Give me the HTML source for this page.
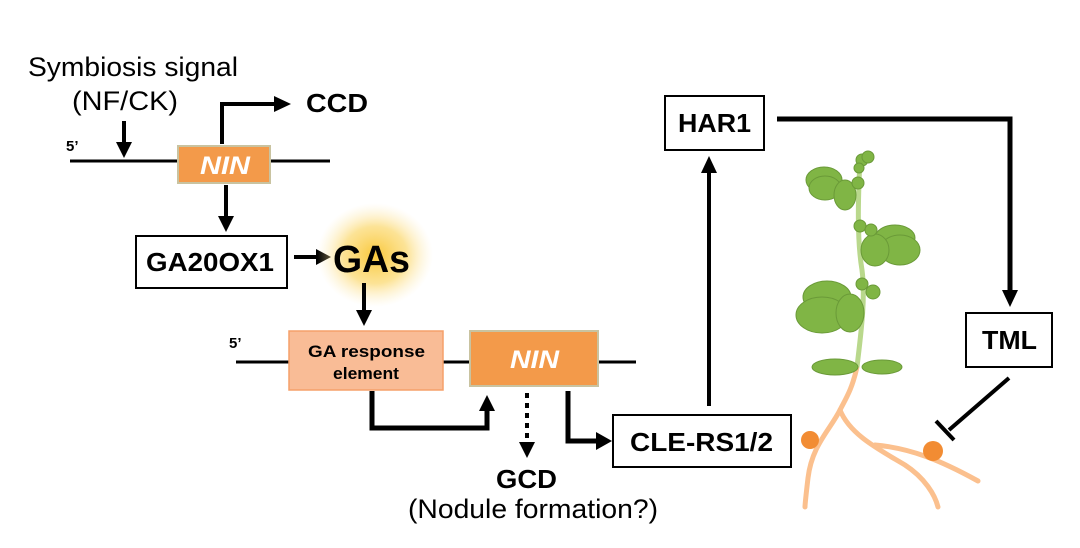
<!DOCTYPE html>
<html><head><meta charset="utf-8"><style>
html,body{margin:0;padding:0;background:#fff;}
svg{display:block;}
text{font-family:"Liberation Sans",Arial,sans-serif;}
</style></head><body>
<svg width="1080" height="548" viewBox="0 0 1080 548" xmlns="http://www.w3.org/2000/svg">
<defs>
<radialGradient id="glow" cx="50%" cy="50%" r="50%">
<stop offset="0%" stop-color="#F9C531" stop-opacity="0.95"/>
<stop offset="55%" stop-color="#FBD769" stop-opacity="0.7"/>
<stop offset="100%" stop-color="#FDEBB8" stop-opacity="0"/>
</radialGradient>
</defs>

<!-- top -->
<text x="28" y="76" font-size="27" textLength="210" lengthAdjust="spacingAndGlyphs">Symbiosis signal</text>
<text x="72" y="110" font-size="27" textLength="106" lengthAdjust="spacingAndGlyphs">(NF/CK)</text>
<line x1="124" y1="121" x2="124" y2="144" stroke="#000" stroke-width="4"/>
<path d="M116,142 L132,142 L124,158 z"/>
<text x="66" y="151" font-size="15" font-weight="bold">5’</text>
<line x1="70" y1="161" x2="330" y2="161" stroke="#000" stroke-width="3"/>
<rect x="178" y="146" width="92" height="37" fill="#F39A4A" stroke="#C9C3A0" stroke-width="2"/>
<text x="200" y="174" font-size="25" font-weight="bold" font-style="italic" fill="#fff" textLength="50" lengthAdjust="spacingAndGlyphs">NIN</text>
<path d="M222,144 L222,104 L276,104" fill="none" stroke="#000" stroke-width="4"/>
<path d="M274,96 L291,104 L274,112 z"/>
<text x="306" y="112" font-size="26" font-weight="bold" textLength="62" lengthAdjust="spacingAndGlyphs">CCD</text>
<line x1="226" y1="185" x2="226" y2="218" stroke="#000" stroke-width="4"/>
<path d="M218,216 L234,216 L226,232 z"/>
<rect x="136" y="236" width="151" height="52" fill="#fff" stroke="#000" stroke-width="2"/>
<text x="146" y="271" font-size="26" font-weight="bold" textLength="128" lengthAdjust="spacingAndGlyphs">GA20OX1</text>
<line x1="294" y1="257" x2="318" y2="257" stroke="#000" stroke-width="4"/>
<path d="M316,249 L331,257 L316,265 z"/>
<ellipse cx="375" cy="255" rx="58" ry="52" fill="url(#glow)"/>
<text x="333" y="272" font-size="38" font-weight="bold" textLength="77" lengthAdjust="spacingAndGlyphs">GAs</text>
<line x1="364" y1="283" x2="364" y2="312" stroke="#000" stroke-width="4"/>
<path d="M356,310 L372,310 L364,326 z"/>

<!-- middle -->
<text x="229" y="348" font-size="15" font-weight="bold">5’</text>
<line x1="236" y1="362" x2="636" y2="362" stroke="#000" stroke-width="3"/>
<rect x="289" y="331" width="154" height="59" fill="#F9BC96" stroke="#F5A06A" stroke-width="1.5"/>
<text x="308" y="357" font-size="17" font-weight="bold" textLength="117" lengthAdjust="spacingAndGlyphs">GA response</text>
<text x="333" y="379" font-size="17" font-weight="bold" textLength="66" lengthAdjust="spacingAndGlyphs">element</text>
<rect x="470" y="331" width="128" height="55" fill="#F39A4A" stroke="#C9C3A0" stroke-width="2"/>
<text x="510" y="368" font-size="25" font-weight="bold" font-style="italic" fill="#fff" textLength="49" lengthAdjust="spacingAndGlyphs">NIN</text>
<path d="M372,391 L372,428 L487,428 L487,410" fill="none" stroke="#000" stroke-width="5"/>
<path d="M479,411 L495,411 L487,395 z"/>
<line x1="527" y1="393" x2="527" y2="443" stroke="#000" stroke-width="4" stroke-dasharray="5,5"/>
<path d="M519,442 L535,442 L527,458 z"/>
<text x="496" y="488" font-size="26" font-weight="bold" textLength="61" lengthAdjust="spacingAndGlyphs">GCD</text>
<text x="408" y="518" font-size="27" textLength="250" lengthAdjust="spacingAndGlyphs">(Nodule formation?)</text>
<path d="M568,391 L568,441 L598,441" fill="none" stroke="#000" stroke-width="5"/>
<path d="M596,432 L612,441 L596,450 z"/>
<rect x="613" y="415" width="178" height="52" fill="#fff" stroke="#000" stroke-width="2"/>
<text x="630" y="451" font-size="26" font-weight="bold" textLength="143" lengthAdjust="spacingAndGlyphs">CLE-RS1/2</text>
<line x1="709" y1="406" x2="709" y2="172" stroke="#000" stroke-width="4"/>
<path d="M701,173 L717,173 L709,156 z"/>
<rect x="665" y="96" width="99" height="54" fill="#fff" stroke="#000" stroke-width="2"/>
<text x="678" y="132" font-size="26" font-weight="bold" textLength="73" lengthAdjust="spacingAndGlyphs">HAR1</text>
<path d="M777,119 L1010,119 L1010,290" fill="none" stroke="#000" stroke-width="5"/>
<path d="M1002,290 L1018,290 L1010,307 z"/>
<rect x="966" y="313" width="86" height="54" fill="#fff" stroke="#000" stroke-width="2"/>
<text x="982" y="349" font-size="26" font-weight="bold" textLength="55" lengthAdjust="spacingAndGlyphs">TML</text>
<line x1="1009" y1="378" x2="949" y2="430" stroke="#000" stroke-width="4"/>
<line x1="936" y1="421" x2="954" y2="440" stroke="#000" stroke-width="4"/>

<!-- plant roots -->
<g fill="none" stroke="#FBC08E" stroke-width="5" stroke-linecap="round">
<path d="M857,367 C852,390 845,400 840,410 C830,430 812,445 808,478 C806,495 805,505 805,507"/>
<path d="M840,410 C850,435 880,450 905,465 C925,478 935,495 938,507"/>
<path d="M875,445 C910,448 940,460 978,481"/>
</g>
<circle cx="810" cy="440" r="9" fill="#F28C33"/>
<circle cx="933" cy="451" r="10" fill="#F28C33"/>
<!-- stem -->
<path d="M860,160 C858,200 857,240 862,270 C866,300 860,340 857,367" fill="none" stroke="#B9D88C" stroke-width="5"/>
<g fill="#80B545" stroke="#6A9A38" stroke-width="1">
<ellipse cx="824" cy="180" rx="18" ry="13"/>
<ellipse cx="825" cy="188" rx="16" ry="12"/>
<ellipse cx="845" cy="195" rx="11" ry="15"/>
<ellipse cx="895" cy="238" rx="20" ry="13"/>
<ellipse cx="900" cy="250" rx="20" ry="15"/>
<ellipse cx="875" cy="250" rx="14" ry="16"/>
<ellipse cx="827" cy="297" rx="24" ry="16"/>
<ellipse cx="822" cy="315" rx="26" ry="18"/>
<ellipse cx="850" cy="313" rx="14" ry="19"/>
<ellipse cx="835" cy="367" rx="23" ry="8"/>
<ellipse cx="882" cy="367" rx="20" ry="7"/>
<circle cx="862" cy="160" r="6"/>
<circle cx="868" cy="157" r="6"/>
<circle cx="859" cy="168" r="5"/>
<circle cx="858" cy="183" r="6"/>
<circle cx="860" cy="226" r="6"/>
<circle cx="871" cy="230" r="6"/>
<circle cx="862" cy="284" r="6"/>
<circle cx="873" cy="292" r="7"/>
</g>
</svg>
</body></html>
